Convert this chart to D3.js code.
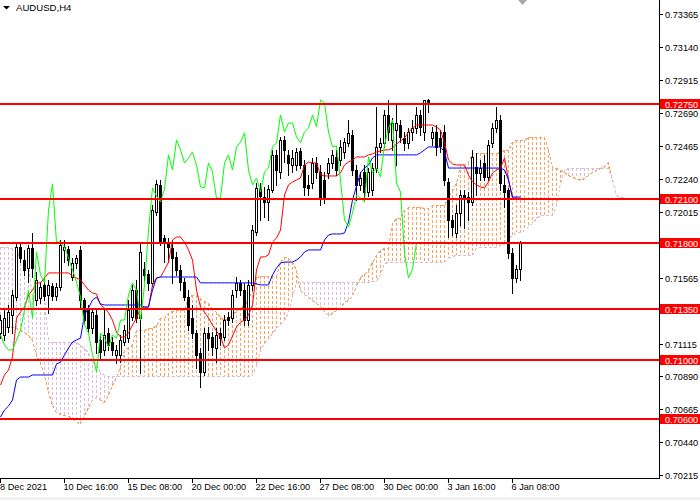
<!DOCTYPE html>
<html><head><meta charset="utf-8">
<script src="https://cdn.jsdelivr.net/npm/d3@7"></script>
<style>html,body{margin:0;padding:0;background:#fff;}svg{display:block;}</style>
</head><body>
<svg id="chart" width="700" height="500"></svg>
<script>
const symbol = "AUDUSD,H4";
const xTickBars = [0,16,32,48,64,80,96,112,128];
const xTickLabels = ["8 Dec 2021","10 Dec 16:00","15 Dec 08:00","20 Dec 00:00","22 Dec 16:00","27 Dec 08:00","30 Dec 00:00","3 Jan 16:00","6 Jan 08:00"];
const yTicks = [0.70215,0.70440,0.70665,0.70890,0.71115,0.71340,0.71565,0.71790,0.72015,0.72240,0.72465,0.72690,0.72915,0.73140,0.73365];
const levels = [0.72750,0.72100,0.71800,0.71350,0.71000,0.70600];

const open = [
0.71187,0.71173,0.71227,0.71310,0.71432,0.71774,0.71685,0.71630,0.71767,0.71412,
0.71425,0.71515,0.71446,0.71508,0.71439,0.71501,0.71754,0.71761,0.71569,0.71665,
0.71754,0.71412,0.71344,0.71220,0.71310,0.71139,0.71071,0.71187,0.71125,0.71037,
0.71037,0.71125,0.71152,0.71296,0.71480,0.71289,0.71624,0.71590,0.71529,0.72013,
0.72198,0.71835,0.71808,0.71767,0.71706,0.71617,0.71535,0.71432,0.71289,0.71187,
0.71051,0.70920,0.71187,0.71159,0.71084,0.71187,0.71159,0.71296,0.71289,0.71480,
0.71529,0.71480,0.71275,0.71515,0.71876,0.72177,0.72115,0.72081,0.72163,0.72403,
0.72286,0.72505,0.72403,0.72334,0.72334,0.72430,0.72334,0.72198,0.72212,0.72348,
0.72286,0.72232,0.72280,0.72348,0.72389,0.72368,0.72423,0.72485,0.72539,0.72300,
0.72198,0.72286,0.72149,0.72163,0.72313,0.72457,0.72485,0.72676,0.72505,0.72573,
0.72607,0.72518,0.72485,0.72559,0.72586,0.72676,0.72559,0.72778,0.72518,0.72559,
0.72518,0.72559,0.72218,0.71958,0.71870,0.72007,0.72129,0.72115,0.72081,0.72320,
0.72280,0.72348,0.72252,0.72485,0.72586,0.72641,0.72198,0.72163,0.71734,0.71562,
0.71624];
const high = [
0.71310,0.71344,0.71378,0.71480,0.71802,0.71802,0.71754,0.71788,0.71870,0.71603,
0.71535,0.71562,0.71549,0.71529,0.71529,0.71822,0.71822,0.71781,0.71699,0.71720,
0.71781,0.71425,0.71378,0.71357,0.71357,0.71173,0.71344,0.71220,0.71159,0.71105,
0.71173,0.71241,0.71412,0.71515,0.71549,0.71802,0.71671,0.71617,0.72061,0.72232,
0.72232,0.71856,0.71835,0.71822,0.71740,0.71651,0.71562,0.71480,0.71378,0.71207,
0.71084,0.71220,0.71227,0.71193,0.71220,0.71220,0.71310,0.71330,0.71480,0.71569,
0.71549,0.71529,0.71549,0.71924,0.72212,0.72212,0.72184,0.72198,0.72437,0.72437,
0.72525,0.72532,0.72437,0.72437,0.72450,0.72450,0.72368,0.72266,0.72382,0.72389,
0.72334,0.72286,0.72382,0.72437,0.72437,0.72505,0.72518,0.72641,0.72573,0.72334,
0.72286,0.72334,0.72313,0.72348,0.72730,0.72518,0.72710,0.72778,0.72655,0.72758,
0.72641,0.72559,0.72586,0.72641,0.72730,0.72710,0.72778,0.72785,0.72593,0.72607,
0.72573,0.72607,0.72245,0.71993,0.72061,0.72163,0.72163,0.72149,0.72437,0.72417,
0.72368,0.72403,0.72505,0.72621,0.72730,0.72676,0.72266,0.72177,0.71767,0.71651,
0.71815];
const low = [
0.71152,0.71139,0.71193,0.71187,0.71412,0.71671,0.71583,0.71535,0.71569,0.71378,
0.71392,0.71412,0.71324,0.71412,0.71412,0.71480,0.71671,0.71651,0.71549,0.71630,
0.71364,0.71255,0.71193,0.71187,0.71051,0.71016,0.71037,0.71071,0.71037,0.70982,
0.70988,0.71105,0.71125,0.71275,0.71261,0.70914,0.71549,0.71480,0.71508,0.71993,
0.71788,0.71671,0.71671,0.71529,0.71583,0.71480,0.71412,0.71207,0.71152,0.70947,
0.70818,0.70900,0.71071,0.71037,0.70988,0.71105,0.71139,0.71241,0.71261,0.71432,
0.71446,0.71241,0.71241,0.71480,0.71856,0.71958,0.71979,0.71958,0.72149,0.72198,
0.72245,0.72354,0.72266,0.72286,0.72300,0.72313,0.72129,0.72129,0.72177,0.72245,
0.72061,0.72075,0.72245,0.72313,0.72266,0.72334,0.72382,0.72464,0.72266,0.72095,
0.72163,0.72095,0.72122,0.72129,0.72286,0.72423,0.72457,0.72505,0.72437,0.72334,
0.72491,0.72437,0.72450,0.72505,0.72553,0.72539,0.72505,0.72696,0.72471,0.72403,
0.72423,0.72198,0.71842,0.71856,0.71842,0.71924,0.71903,0.71958,0.72061,0.72129,
0.72232,0.72232,0.72232,0.72457,0.72559,0.72163,0.72047,0.71699,0.71460,0.71535,
0.71549];
const close = [
0.71275,0.71289,0.71330,0.71446,0.71774,0.71699,0.71617,0.71767,0.71630,0.71549,
0.71501,0.71439,0.71515,0.71439,0.71501,0.71788,0.71774,0.71685,0.71665,0.71699,
0.71412,0.71275,0.71220,0.71330,0.71125,0.71057,0.71173,0.71105,0.71071,0.71071,
0.71139,0.71207,0.71344,0.71480,0.71289,0.71740,0.71583,0.71529,0.72027,0.72205,
0.71808,0.71808,0.71774,0.71699,0.71617,0.71535,0.71432,0.71241,0.71187,0.71037,
0.70920,0.71187,0.71152,0.71091,0.71173,0.71152,0.71275,0.71275,0.71446,0.71529,
0.71480,0.71275,0.71515,0.71890,0.72177,0.72122,0.72081,0.72171,0.72403,0.72300,
0.72505,0.72437,0.72348,0.72382,0.72423,0.72334,0.72184,0.72177,0.72348,0.72286,
0.72108,0.72108,0.72348,0.72403,0.72300,0.72457,0.72491,0.72553,0.72300,0.72198,
0.72245,0.72149,0.72286,0.72313,0.72457,0.72485,0.72676,0.72559,0.72621,0.72621,
0.72525,0.72485,0.72559,0.72586,0.72676,0.72593,0.72778,0.72758,0.72559,0.72457,
0.72464,0.72232,0.71958,0.71910,0.72007,0.72129,0.72108,0.72081,0.72389,0.72280,
0.72313,0.72252,0.72471,0.72586,0.72641,0.72212,0.72149,0.71734,0.71562,0.71624,
0.71802];
const tenkan = [
0.70832,0.70900,0.70934,0.71023,0.71289,0.71330,0.71364,0.71446,0.71480,0.71529,
0.71529,0.71562,0.71597,0.71597,0.71597,0.71597,0.71597,0.71597,0.71576,0.71562,
0.71549,0.71515,0.71480,0.71460,0.71453,0.71378,0.71357,0.71324,0.71275,0.71193,
0.71159,0.71159,0.71187,0.71241,0.71289,0.71357,0.71364,0.71364,0.71515,0.71562,
0.71569,0.71617,0.71671,0.71822,0.71842,0.71842,0.71808,0.71754,0.71685,0.71480,
0.71364,0.71330,0.71289,0.71241,0.71200,0.71159,0.71084,0.71105,0.71166,0.71227,
0.71261,0.71275,0.71310,0.71378,0.71617,0.71706,0.71706,0.71720,0.71808,0.71835,
0.71890,0.72129,0.72198,0.72218,0.72232,0.72245,0.72334,0.72354,0.72348,0.72348,
0.72266,0.72259,0.72259,0.72259,0.72259,0.72280,0.72334,0.72354,0.72368,0.72389,
0.72389,0.72389,0.72403,0.72410,0.72423,0.72430,0.72437,0.72437,0.72450,0.72478,
0.72498,0.72518,0.72559,0.72586,0.72607,0.72607,0.72607,0.72607,0.72607,0.72593,
0.72573,0.72485,0.72368,0.72341,0.72334,0.72334,0.72334,0.72266,0.72218,0.72198,
0.72184,0.72177,0.72218,0.72280,0.72300,0.72313,0.72382,0.72232,0.72108,0.72108,
0.72101];
const kijun = [
0.70613,0.70661,0.70688,0.70729,0.70866,0.70886,0.70886,0.70886,0.70900,0.70900,
0.70900,0.70900,0.70900,0.70900,0.70975,0.70988,0.71037,0.71084,0.71125,0.71139,
0.71152,0.71310,0.71357,0.71412,0.71432,0.71385,0.71378,0.71378,0.71378,0.71378,
0.71378,0.71378,0.71378,0.71378,0.71378,0.71378,0.71364,0.71364,0.71480,0.71562,
0.71569,0.71569,0.71569,0.71569,0.71569,0.71569,0.71569,0.71569,0.71569,0.71569,
0.71529,0.71529,0.71529,0.71529,0.71529,0.71529,0.71529,0.71529,0.71529,0.71529,
0.71529,0.71529,0.71529,0.71529,0.71522,0.71515,0.71515,0.71515,0.71583,0.71630,
0.71665,0.71671,0.71671,0.71671,0.71685,0.71706,0.71740,0.71754,0.71754,0.71754,
0.71754,0.71822,0.71856,0.71863,0.71863,0.71863,0.71870,0.71944,0.72095,0.72191,
0.72280,0.72313,0.72334,0.72382,0.72403,0.72403,0.72403,0.72403,0.72403,0.72403,
0.72403,0.72403,0.72403,0.72403,0.72403,0.72417,0.72437,0.72457,0.72457,0.72457,
0.72457,0.72423,0.72313,0.72313,0.72313,0.72313,0.72313,0.72313,0.72313,0.72313,
0.72313,0.72313,0.72313,0.72313,0.72313,0.72313,0.72300,0.72232,0.72115,0.72115,
0.72115];
const spanA = [
0.71227,0.71227,0.71227,0.71227,0.71220,0.71207,0.71193,0.71173,0.71139,0.71037,
0.70982,0.70900,0.70783,0.70695,0.70647,0.70634,0.70627,0.70620,0.70606,0.70585,
0.70565,0.70627,0.70681,0.70729,0.70749,0.70729,0.70715,0.70763,0.70832,0.70886,
0.70954,0.71071,0.71091,0.71105,0.71207,0.71207,0.71207,0.71220,0.71220,0.71241,
0.71289,0.71289,0.71324,0.71337,0.71344,0.71344,0.71344,0.71432,0.71446,0.71446,
0.71425,0.71405,0.71392,0.71357,0.71330,0.71296,0.71275,0.71289,0.71310,0.71344,
0.71357,0.71378,0.71412,0.71480,0.71569,0.71576,0.71576,0.71576,0.71576,0.71576,
0.71671,0.71706,0.71699,0.71671,0.71617,0.71480,0.71453,0.71432,0.71412,0.71392,
0.71371,0.71337,0.71310,0.71324,0.71344,0.71364,0.71398,0.71412,0.71439,0.71508,
0.71569,0.71590,0.71617,0.71671,0.71720,0.71754,0.71767,0.71767,0.71938,0.71972,
0.71972,0.72027,0.72047,0.72047,0.72047,0.72047,0.72040,0.72040,0.72061,0.72061,
0.72061,0.72061,0.72115,0.72163,0.72212,0.72334,0.72334,0.72354,0.72417,0.72417,
0.72417,0.72417,0.72417,0.72417,0.72417,0.72423,0.72437,0.72437,0.72491,0.72505,
0.72505,0.72505,0.72525,0.72525,0.72525,0.72525,0.72525,0.72437,0.72313,0.72313,
0.72300,0.72286,0.72266,0.72252,0.72245,0.72232,0.72245,0.72266,0.72286,0.72300,
0.72313,0.72327,0.72354,0.72232,0.72129,0.72115,0.72115];
const spanB = [
0.71774,0.71774,0.71774,0.71767,0.71754,0.71699,0.71671,0.71651,0.71432,0.71432,
0.71432,0.71432,0.71125,0.71125,0.71125,0.71125,0.71125,0.71125,0.71125,0.71125,
0.71105,0.71084,0.71051,0.71002,0.70968,0.70920,0.70900,0.70893,0.70893,0.70893,
0.70893,0.70893,0.70893,0.70893,0.70893,0.70893,0.70893,0.70893,0.70893,0.70893,
0.70893,0.70893,0.70893,0.70893,0.70893,0.70893,0.70893,0.70893,0.70893,0.70893,
0.70893,0.70893,0.70893,0.70893,0.70893,0.70893,0.70893,0.70893,0.70893,0.70893,
0.70893,0.70893,0.70893,0.70900,0.70968,0.71071,0.71118,0.71152,0.71187,0.71220,
0.71248,0.71275,0.71330,0.71446,0.71529,0.71535,0.71535,0.71535,0.71535,0.71535,
0.71535,0.71535,0.71535,0.71535,0.71535,0.71535,0.71535,0.71535,0.71535,0.71535,
0.71535,0.71535,0.71535,0.71542,0.71549,0.71583,0.71665,0.71671,0.71671,0.71671,
0.71671,0.71671,0.71671,0.71671,0.71671,0.71671,0.71671,0.71671,0.71671,0.71671,
0.71671,0.71671,0.71699,0.71713,0.71720,0.71720,0.71720,0.71720,0.71720,0.71767,
0.71774,0.71774,0.71774,0.71774,0.71774,0.71788,0.71795,0.71835,0.71856,0.71876,
0.71876,0.71890,0.71917,0.71938,0.71972,0.71993,0.71993,0.71993,0.71993,0.72061,
0.72212,0.72300,0.72313,0.72313,0.72313,0.72313,0.72313,0.72313,0.72313,0.72313,
0.72313,0.72313,0.72313,0.72232,0.72129,0.72115,0.72115];
const chikouShift = 26;

const FONT = "'Liberation Sans', Arial, sans-serif";
const svg = d3.select("#chart");
const plotR = 659, plotB = 478;
const x = d3.scaleLinear().domain([0, 1]).range([0.5, 4.5]);
const y = d3.scaleLinear().domain([0.70215, 0.73365]).range([475.3, 14]);
const ry = v => Math.round(y(v));

svg.append("rect").attr("width",700).attr("height",500).attr("fill","#fff");
svg.append("defs").append("clipPath").attr("id","plot")
  .append("rect").attr("x",0).attr("y",0).attr("width",plotR).attr("height",plotB);
const g = svg.append("g").attr("clip-path","url(#plot)");

// cloud hatch
const cloud = g.append("g").attr("shape-rendering","crispEdges");
spanA.forEach((a, i) => {
  const b = spanB[i];
  if (a === b) return;
  const y1 = Math.min(ry(a), ry(b)), y2 = Math.max(ry(a), ry(b));
  cloud.append("line")
    .attr("x1", x(i)).attr("x2", x(i)).attr("y1", y1).attr("y2", y2)
    .attr("stroke", a > b ? "#f4a460" : "#d8bfd8").attr("stroke-width", 1)
    .attr("stroke-dasharray", "3,2");
});
const lineGen = d3.line().x((d,i)=>x(i)).y(d=>ry(d)+0.5);
g.append("path").datum(spanA).attr("d", lineGen).attr("fill","none")
  .attr("stroke","#f4a460").attr("stroke-dasharray","3,2").attr("shape-rendering","crispEdges");
g.append("path").datum(spanB).attr("d", lineGen).attr("fill","none")
  .attr("stroke","#d8bfd8").attr("stroke-dasharray","3,2").attr("shape-rendering","crispEdges");

// candles
const cg = g.append("g").attr("shape-rendering","crispEdges");
open.forEach((o, i) => {
  const c = close[i], cx = x(i);
  cg.append("line").attr("x1",cx).attr("x2",cx)
    .attr("y1", ry(high[i])).attr("y2", ry(low[i])+1).attr("stroke","#000");
  const top = Math.min(ry(o), ry(c)), bot = Math.max(ry(o), ry(c));
  if (bot - top < 1) {
    cg.append("line").attr("x1",cx-1.5).attr("x2",cx+1.5).attr("y1",top+0.5).attr("y2",top+0.5).attr("stroke","#000");
  } else {
    cg.append("rect").attr("x", cx-1).attr("y", top+0.5).attr("width",2).attr("height", bot-top)
      .attr("fill", c >= o ? "#fff" : "#000").attr("stroke","#000");
  }
});

// indicator lines
const lineT = d3.line().x((d,i)=>x(i)).y(d=>y(d));
g.append("path").datum(tenkan).attr("d", lineT).attr("fill","none").attr("stroke","#ff0000").attr("stroke-width",1);
g.append("path").datum(kijun).attr("d", lineT).attr("fill","none").attr("stroke","#0000ff").attr("stroke-width",1);
const chikou = close.slice(chikouShift);
g.append("path").datum(chikou).attr("d", lineT).attr("fill","none").attr("stroke","#00ff00").attr("stroke-width",1);

// horizontal levels
levels.forEach(l => {
  g.append("line").attr("x1",0).attr("x2",plotR).attr("y1",ry(l)).attr("y2",ry(l))
    .attr("stroke","#ff0000").attr("stroke-width",2).attr("shape-rendering","crispEdges");
});

// axes
const ax = svg.append("g").attr("shape-rendering","crispEdges");
ax.append("line").attr("x1",plotR+0.5).attr("x2",plotR+0.5).attr("y1",0).attr("y2",plotB+1).attr("stroke","#000");
ax.append("line").attr("x1",0).attr("x2",plotR+1).attr("y1",plotB+0.5).attr("y2",plotB+0.5).attr("stroke","#000");
yTicks.forEach(t => {
  const yy = ry(t)+0.5;
  ax.append("line").attr("x1",plotR+1).attr("x2",plotR+4).attr("y1",yy).attr("y2",yy).attr("stroke","#000");
  const hidden = levels.some(l => Math.abs(ry(l) - ry(t)) < 5);
  if (!hidden) {
    svg.append("text").attr("x",665).attr("y",ry(t)+3.5).attr("font-family",FONT).attr("font-size","9.2px")
      .attr("fill","#000").text(d3.format(".5f")(t));
  }
});
xTickBars.forEach((b, k) => {
  const xx = x(b);
  ax.append("line").attr("x1",xx).attr("x2",xx).attr("y1",plotB+1).attr("y2",plotB+5).attr("stroke","#000");
  svg.append("text").attr("x", k === 0 ? 0 : xx - 1).attr("y", 490).attr("font-family",FONT)
    .attr("font-size","9.2px").attr("fill","#000").text(xTickLabels[k]);
});
// level labels
levels.forEach(l => {
  const yy = ry(l);
  svg.append("rect").attr("x",660).attr("y",yy-5).attr("width",40).attr("height",10).attr("fill","#ff0000");
  svg.append("text").attr("x",665).attr("y",yy+3.5).attr("font-family",FONT).attr("font-size","9.2px")
    .attr("fill","#fff").text(d3.format(".5f")(l));
});

// title & markers
svg.append("path").attr("d","M3,6 L10,6 L6.5,9.5 Z").attr("fill","#000");
svg.append("text").attr("x",16).attr("y",11).attr("font-family",FONT).attr("font-size","9.6px")
  .attr("fill","#000").text(symbol);
svg.append("path").attr("d","M518,0 L527,0 L522.5,5 Z").attr("fill","#a8a8a8");
svg.append("rect").attr("x",0).attr("y",497).attr("width",700).attr("height",3).attr("fill","#f0f0f0");
</script>
</body></html>
